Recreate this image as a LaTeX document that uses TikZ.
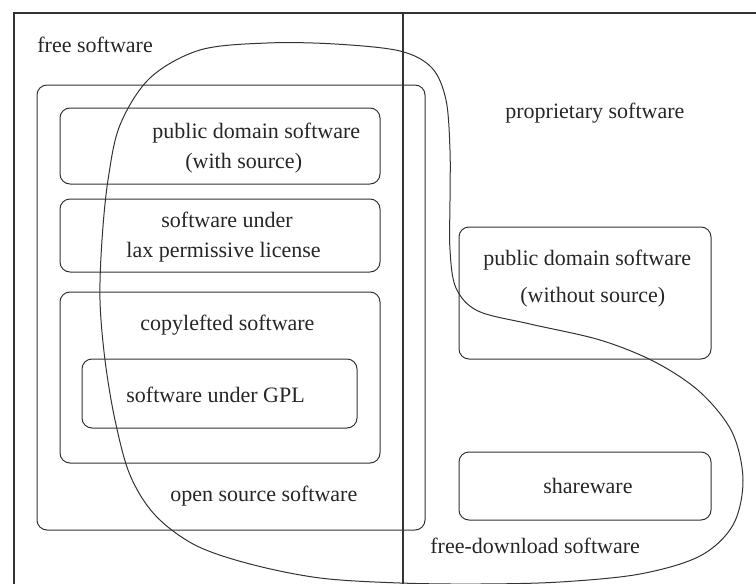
\documentclass[tikz,border=0pt]{standalone}
\usepackage{fontspec}
\setmainfont{Liberation Serif}
\begin{document}
\begin{tikzpicture}[x=0.5pt,y=-0.5pt,
  line/.style={draw=black!80,line width=0.5pt},
  set/.style={line,rounded corners=5pt},
  lbl/.style={inner sep=0pt,anchor=base west,font=\fontsize{11}{13}\selectfont,text=black!85}]
\useasboundingbox (0,0) rectangle (756,584);
% outer frame and the free / proprietary divider
\draw[line,line width=0.6pt] (756,13) -- (14,13) -- (14,584);
\draw[line,line width=0.6pt] (403,13) -- (403,584);
% nested sets on the free side
\draw[set] (37,85) rectangle (425,530);
\draw[set] (60,108) rectangle (380,184);
\draw[set] (60,199) rectangle (380,272);
\draw[set] (60,292) rectangle (380,463);
\draw[set] (82,359) rectangle (357,428);
% sets on the proprietary side
\draw[set] (459,227) rectangle (711,359);
\draw[set] (459,452) rectangle (711,520);
% free-download region
\draw[line] plot[smooth cycle,tension=0.55] coordinates {
  (200,50) (267,43) (335,44) (400,51) (432,68) (446,100) (450,150)
  (450,200) (450,250) (456,288) (478,311) (530,324) (600,340) (655,362)
  (700,392) (732,432) (743,480) (733,525) (700,556) (640,574) (560,582)
  (480,584) (400,583) (320,578) (250,564) (195,545) (155,515) (130,475)
  (115,420) (105,360) (100,300) (102,240) (108,180) (120,125) (150,78)};
% labels
\node[lbl] (free) at (37,52) {free software};
\node[lbl] (pdws1) at (152,138) {public domain software};
\node[lbl] (pdws2) at (185,168) {(with source)};
\node[lbl] (lax1) at (161,227) {software under};
\node[lbl] (lax2) at (126,257) {lax permissive license};
\node[lbl] (copy) at (140,330) {copylefted software};
\node[lbl] (gpl) at (126,402) {software under GPL};
\node[lbl] (oss) at (170,501) {open source software};
\node[lbl] (prop) at (505,118) {proprietary software};
\node[lbl] (pdns1) at (483,265) {public domain software};
\node[lbl] (pdns2) at (520,302) {(without source)};
\node[lbl] (share) at (543,493) {shareware};
\node[lbl] (fdl) at (430,553) {free-download software};
\end{tikzpicture}
\end{document}
